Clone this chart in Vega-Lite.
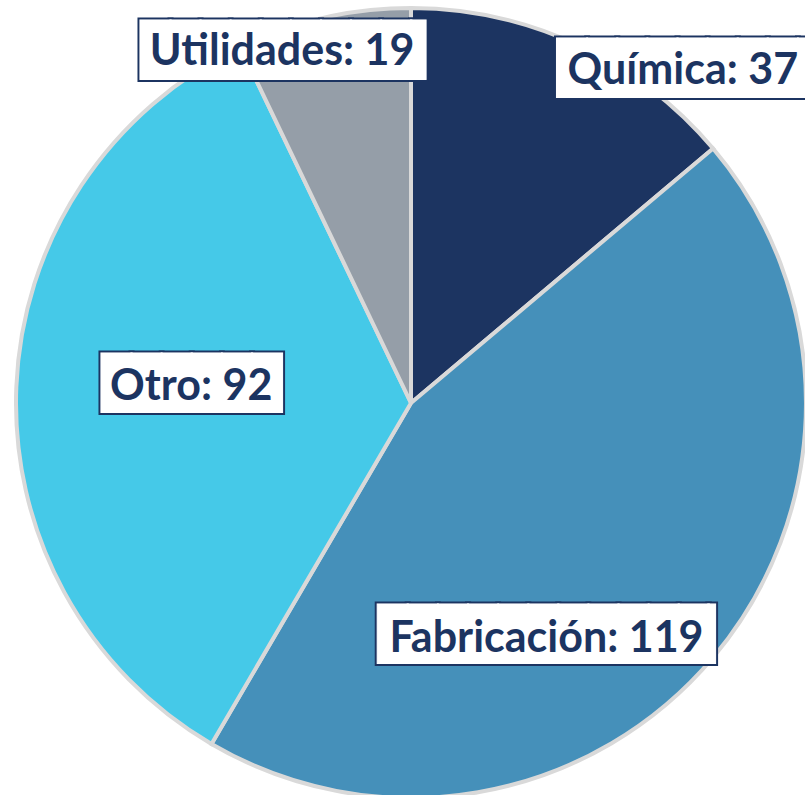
{
  "$schema": "https://vega.github.io/schema/vega-lite/v6.json",
  "width": 788,
  "height": 784,
  "padding": {"left": 17, "top": 11, "right": 0, "bottom": 0},
  "autosize": {"type": "none"},
  "background": "white",
  "config": {"view": {"stroke": null}},
  "data": {
    "values": [
      {"id": 1, "category": "Química", "value": 37},
      {"id": 2, "category": "Fabricación", "value": 119},
      {"id": 3, "category": "Otro", "value": 92},
      {"id": 4, "category": "Utilidades", "value": 19}
    ]
  },
  "encoding": {
    "theta": {"field": "value", "type": "quantitative", "stack": true},
    "order": {"field": "id", "type": "quantitative"}
  },
  "layer": [
    {
      "mark": {"type": "arc", "outerRadius": 395, "stroke": "#D9D9D9", "strokeWidth": 4},
      "encoding": {
        "color": {
          "field": "category",
          "type": "nominal",
          "scale": {
            "domain": ["Química", "Fabricación", "Otro", "Utilidades"],
            "range": ["#1C3461", "#4590BA", "#45C9E8", "#959EA8"]
          },
          "legend": null
        }
      }
    },
    {
      "mark": {
        "type": "text",
        "font": "DejaVu Sans Mono",
        "fontSize": 50,
        "fill": "#1C3461",
        "stroke": "#1C3461",
        "strokeWidth": 5,
        "align": "left",
        "baseline": "alphabetic",
        "dx": {"expr": "datum.category === 'Química' ? 32 : datum.category === 'Fabricación' ? -240 : datum.category === 'Otro' ? -40 : -211"},
        "dy": {"expr": "datum.category === 'Química' ? -73 : datum.category === 'Fabricación' ? 74 : datum.category === 'Otro' ? 8 : -73"}
      },
      "encoding": {
        "detail": {"field": "category"},
        "radius": {"value": 270},
        "text": {
          "condition": [
            {"test": "datum.category === 'Química'", "value": "██████████"},
            {"test": "datum.category === 'Fabricación'", "value": "███████████▎"},
            {"test": "datum.category === 'Otro'", "value": "██████"}
          ],
          "value": "█████████▌"
        }
      }
    },
    {
      "mark": {
        "type": "text",
        "font": "DejaVu Sans Mono",
        "fontSize": 50,
        "fill": "white",
        "stroke": "white",
        "strokeWidth": 1,
        "align": "left",
        "baseline": "alphabetic",
        "dx": {"expr": "datum.category === 'Química' ? 32 : datum.category === 'Fabricación' ? -240 : datum.category === 'Otro' ? -40 : -211"},
        "dy": {"expr": "datum.category === 'Química' ? -73 : datum.category === 'Fabricación' ? 74 : datum.category === 'Otro' ? 8 : -73"}
      },
      "encoding": {
        "detail": {"field": "category"},
        "radius": {"value": 270},
        "text": {
          "condition": [
            {"test": "datum.category === 'Química'", "value": "██████████"},
            {"test": "datum.category === 'Fabricación'", "value": "███████████▎"},
            {"test": "datum.category === 'Otro'", "value": "██████"}
          ],
          "value": "█████████▌"
        }
      }
    },
    {
      "mark": {
        "type": "text",
        "font": "Lato",
        "fontSize": 43,
        "fontWeight": "bold",
        "fill": "#1C3461",
        "align": "center",
        "baseline": "alphabetic",
        "text": {"expr": "datum.category + ': ' + datum.value"},
        "dx": {"expr": "datum.category === 'Química' ? 158 : datum.category === 'Fabricación' ? -71 : datum.category === 'Otro' ? 50 : -69"},
        "dy": {"expr": "datum.category === 'Química' ? -74 : datum.category === 'Fabricación' ? 75 : datum.category === 'Otro' ? 8 : -75"}
      },
      "encoding": {
        "detail": {"field": "category"},
        "radius": {"value": 270}
      }
    }
  ]
}
